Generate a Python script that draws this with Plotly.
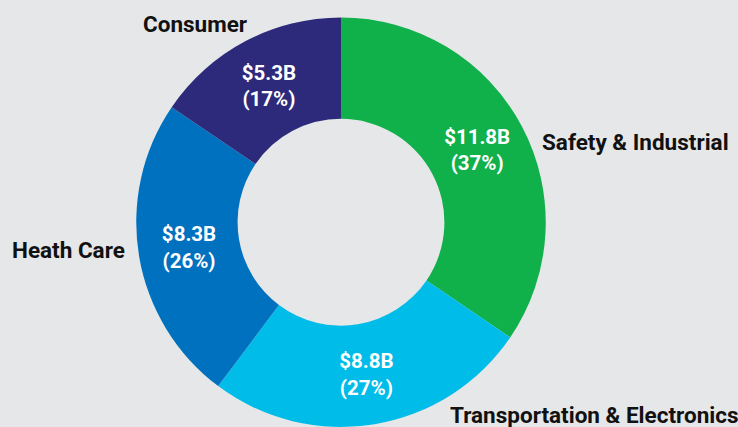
import plotly.graph_objects as go

categories = ["Safety & Industrial", "Transportation & Electronics", "Heath Care", "Consumer"]
values = [11.8, 8.8, 8.3, 5.3]
value_labels = ["$11.8B", "$8.8B", "$8.3B", "$5.3B"]
pct_labels = ["(37%)", "(27%)", "(26%)", "(17%)"]
colors = ["#10b04b", "#00bce8", "#0071bf", "#2d2a7c"]

inner_text = [f"{v}<br>{p}" for v, p in zip(value_labels, pct_labels)]

fig = go.Figure(go.Pie(
    labels=categories,
    values=values,
    text=inner_text,
    textinfo="text",
    textposition="inside",
    insidetextorientation="horizontal",
    insidetextfont=dict(family="Roboto", size=20.5, color="white", weight="bold"),
    marker=dict(colors=colors, line=dict(width=0)),
    hole=0.505,
    sort=False,
    direction="clockwise",
    rotation=0,
    domain=dict(x=[0.1836, 0.7405], y=[0.0, 0.959]),
    showlegend=False,
    hoverinfo="skip",
))

label_pos = {
    "Safety & Industrial": (635, 142),
    "Transportation & Electronics": (594, 415),
    "Heath Care": (68.5, 249.5),
    "Consumer": (195, 24),
}
W, H = 738, 427
for name in categories:
    px, py = label_pos[name]
    fig.add_annotation(
        text=f"<b>{name}</b>", x=px / W, y=1 - py / H, xref="paper", yref="paper",
        showarrow=False, xanchor="center", yanchor="middle",
        font=dict(family="Roboto", size=22.5, color="#111111"),
    )

fig.update_layout(
    width=W, height=H,
    margin=dict(l=0, r=0, t=0, b=0),
    paper_bgcolor="#e6e7e8",
    plot_bgcolor="#e6e7e8",
)
fig.write_html(
    "out.html",
    config={"displayModeBar": False},
    post_script="document.body.style.margin='0';document.body.style.overflow='hidden';",
)
